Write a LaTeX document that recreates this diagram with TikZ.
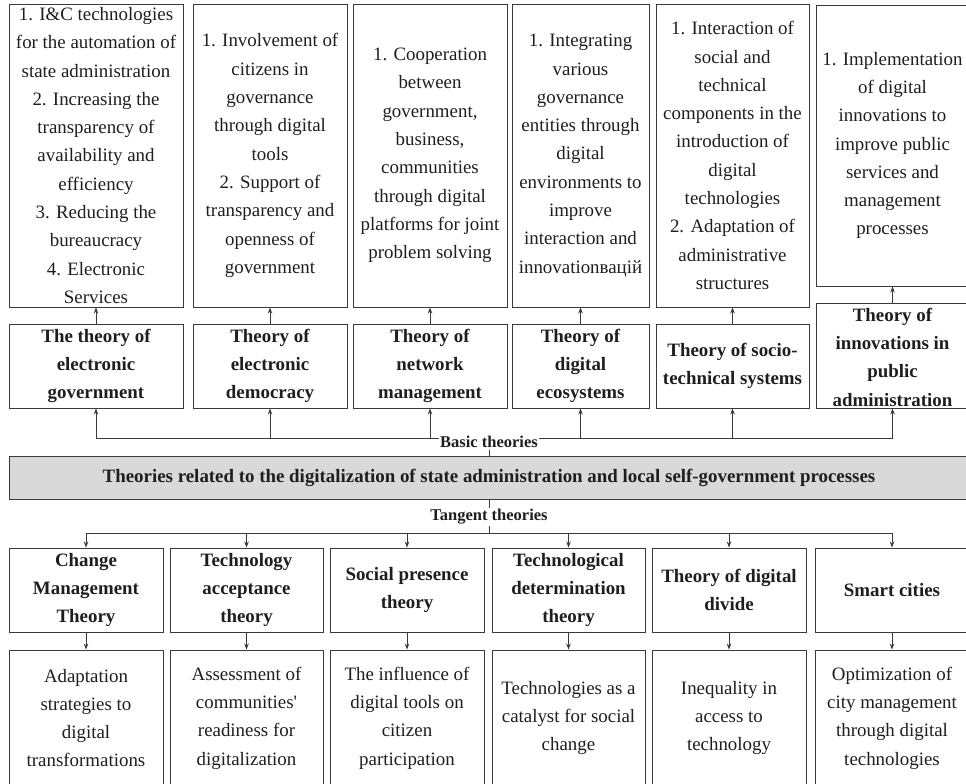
\documentclass[tikz,border=0pt]{standalone}
\usepackage{fontspec}
\setmainfont{Liberation Serif}
\usetikzlibrary{arrows.meta}
\definecolor{ln}{HTML}{3A3A3A}
\definecolor{tx}{HTML}{1E1E1E}
\definecolor{gr}{HTML}{D9D9D9}
\begin{document}
\begin{tikzpicture}[x=1pt,y=-1pt,
 box/.style={draw=ln, line width=0.9pt, inner sep=0pt},
 txt/.style={align=center, text=tx, font=\fontsize{18.9}{28.3}\selectfont, inner sep=0pt},
 btxt/.style={align=center, text=tx, font=\fontsize{18.9}{28.3}\selectfont\bfseries, inner sep=0pt},
 lbl/.style={text=tx, font=\fontsize{16.5}{18}\selectfont\bfseries, inner sep=1.5pt, fill=white},
 arr/.style={draw=ln, line width=0.9pt, -{Stealth[length=6pt,width=4.5pt]}},
 con/.style={draw=ln, line width=0.9pt}]
\useasboundingbox (0,0) rectangle (966,784);
\clip (0,0) rectangle (966,784);
% ---------- top description boxes ----------
\node[box, minimum width=174pt, minimum height=303pt] (d1) at (96,155.5) {};
\node[box, minimum width=154pt, minimum height=303pt] (d2) at (270,155.5) {};
\node[box, minimum width=154pt, minimum height=303pt] (d3) at (430,155.5) {};
\node[box, minimum width=137pt, minimum height=303pt] (d4) at (580.5,155.5) {};
\node[box, minimum width=153pt, minimum height=303pt] (d5) at (732.5,155.5) {};
\node[box, minimum width=153pt, minimum height=281pt] (d6) at (892.5,145.5) {};
\node[txt] (d1t) at (d1.center) {1. I\&C technologies\\for the automation of\\state administration\\2. Increasing the\\transparency of\\availability and\\efficiency\\3. Reducing the\\bureaucracy\\4. Electronic\\Services};
\node[txt] (d2t) at (d2.center) {1. Involvement of\\citizens in\\governance\\through digital\\tools\\2. Support of\\transparency and\\openness of\\government};
\node[txt] (d3t) at (d3.center) {1. Cooperation\\between\\government,\\business,\\communities\\through digital\\platforms for joint\\problem solving};
\node[txt] (d4t) at (d4.center) {1. Integrating\\various\\governance\\entities through\\digital\\environments to\\improve\\interaction and\\innovationвацій};
\node[txt] (d5t) at (d5.center) {1. Interaction of\\social and\\technical\\components in the\\introduction of\\digital\\technologies\\2. Adaptation of\\administrative\\structures};
\node[txt] (d6t) at (d6.center) {1. Implementation\\of digital\\innovations to\\improve public\\services and\\management\\processes};
% ---------- basic theory boxes ----------
\node[box, minimum width=174pt, minimum height=84pt] (t1) at (96,366) {};
\node[box, minimum width=154pt, minimum height=84pt] (t2) at (270,366) {};
\node[box, minimum width=154pt, minimum height=84pt] (t3) at (430,366) {};
\node[box, minimum width=137pt, minimum height=84pt] (t4) at (580.5,366) {};
\node[box, minimum width=153pt, minimum height=84pt] (t5) at (732.5,366) {};
\node[box, minimum width=153pt, minimum height=105pt] (t6) at (892.5,355.5) {};
\node[btxt] (t1t) at (t1.center) {The theory of\\electronic\\government};
\node[btxt] (t2t) at (t2.center) {Theory of\\electronic\\democracy};
\node[btxt] (t3t) at (t3.center) {Theory of\\network\\management};
\node[btxt] (t4t) at (t4.center) {Theory of\\digital\\ecosystems};
\node[btxt] (t5t) at (t5.center) {Theory of socio-\\technical systems};
\node[btxt] (t6t) at ([yshift=-1.5pt]t6.center) {Theory of\\innovations in\\public\\administration};
\foreach \i in {1,...,6} {\draw[arr] (t\i.north) -- (d\i.south);}
% ---------- central bar ----------
\node[box, fill=gr, minimum width=966pt, minimum height=43pt] (main) at (492,477.5) {};
\node[btxt] (maint) at (489,477.5) {Theories related to the digitalization of state administration and local self-government processes};
% basic theories connector
\coordinate (bj) at (489,438);
\draw[con] (t1.south |- bj) -- (t6.south |- bj);
\foreach \i in {1,...,6} {\draw[arr] (t\i.south |- bj) -- (t\i.south);}
\node[lbl] (blbl) at (489,442) {Basic theories};
\draw[con] (blbl.south) -- (blbl.south |- main.north);
% ---------- tangent theories ----------
\node[lbl] (tlbl) at (489,517) {Tangent theories};
\draw[con] (tlbl.north |- main.south) -- (tlbl.north);
\coordinate (tj) at (489,533);
\node[box, minimum width=154pt, minimum height=84pt] (b1) at (86,590) {};
\node[box, minimum width=153pt, minimum height=84pt] (b2) at (246.5,590) {};
\node[box, minimum width=154pt, minimum height=84pt] (b3) at (407,590) {};
\node[box, minimum width=153pt, minimum height=84pt] (b4) at (568.5,590) {};
\node[box, minimum width=154pt, minimum height=84pt] (b5) at (729,590) {};
\node[box, minimum width=154pt, minimum height=84pt] (b6) at (892,590) {};
\node[btxt] (b1t) at (b1.center) {Change\\Management\\Theory};
\node[btxt] (b2t) at (b2.center) {Technology\\acceptance\\theory};
\node[btxt] (b3t) at (b3.center) {Social presence\\theory};
\node[btxt] (b4t) at (b4.center) {Technological\\determination\\theory};
\node[btxt] (b5t) at (b5.center) {Theory of digital\\divide};
\node[btxt] (b6t) at (b6.center) {Smart cities};
\draw[con] (tlbl.south) -- (tj);
\draw[con] (b1.north |- tj) -- (b6.north |- tj);
\foreach \i in {1,...,6} {\draw[arr] (b\i.north |- tj) -- (b\i.north);}
% ---------- bottom description boxes ----------
\node[box, minimum width=154pt, minimum height=136pt] (e1) at (86,718) {};
\node[box, minimum width=153pt, minimum height=136pt] (e2) at (246.5,718) {};
\node[box, minimum width=154pt, minimum height=136pt] (e3) at (407,718) {};
\node[box, minimum width=153pt, minimum height=136pt] (e4) at (568.5,718) {};
\node[box, minimum width=154pt, minimum height=136pt] (e5) at (729,718) {};
\node[box, minimum width=154pt, minimum height=136pt] (e6) at (892,718) {};
\node[txt] (e1t) at (e1.center) {Adaptation\\strategies to\\digital\\transformations};
\node[txt] (e2t) at (e2.center) {Assessment of\\communities\textquotesingle\\readiness for\\digitalization};
\node[txt] (e3t) at (e3.center) {The influence of\\digital tools on\\citizen\\participation};
\node[txt] (e4t) at (e4.center) {Technologies as a\\catalyst for social\\change};
\node[txt] (e5t) at (e5.center) {Inequality in\\access to\\technology};
\node[txt] (e6t) at (e6.center) {Optimization of\\city management\\through digital\\technologies};
\foreach \i in {1,...,6} {\draw[arr] (b\i.south) -- (e\i.north);}
\end{tikzpicture}
\end{document}
